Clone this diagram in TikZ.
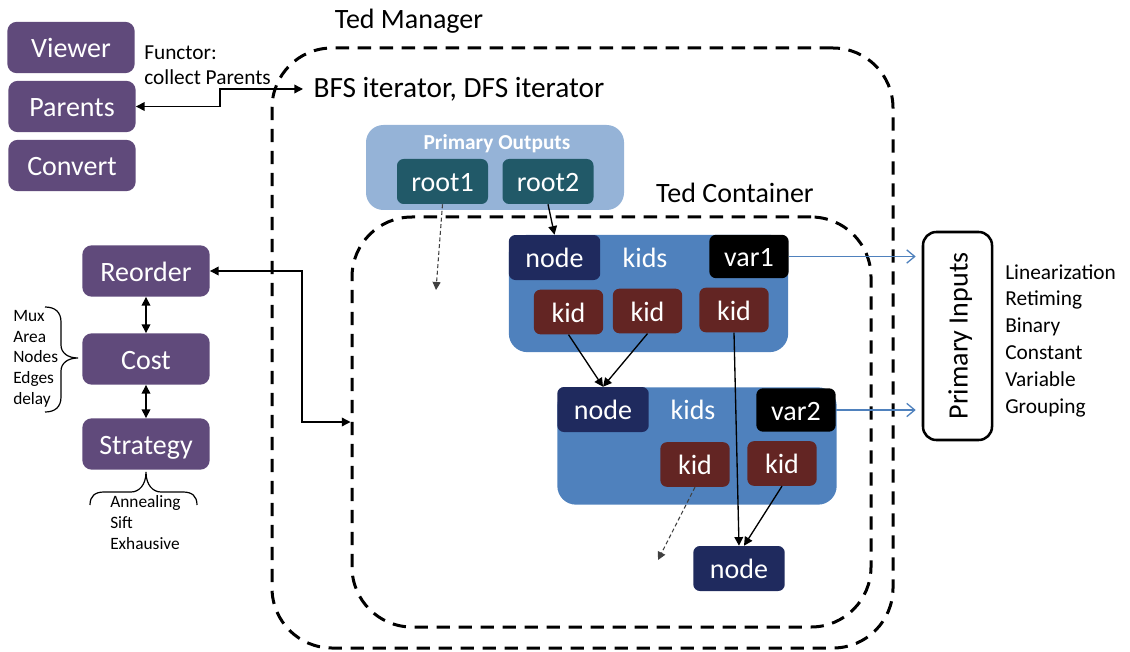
\documentclass[tikz,border=0pt]{standalone}
\usepackage{fontspec}
\setmainfont{Carlito}
\usetikzlibrary{arrows.meta}
\definecolor{plum}{HTML}{604A7B}
\definecolor{paleblue}{HTML}{95B3D7}
\definecolor{deepteal}{HTML}{215968}
\definecolor{steel}{HTML}{4F81BD}
\definecolor{navyink}{HTML}{1F2A5E}
\definecolor{oxblood}{HTML}{632523}
\definecolor{ashline}{HTML}{404040}
\tikzset{
  bigfont/.style={font=\fontsize{21}{25}\selectfont},
  tile/.style={bigfont, text=white, inner sep=0pt, text height=19.5pt, text depth=4.2pt},
  opbox/.style={tile, fill=plum, rounded corners=7pt, minimum width=95.5pt, minimum height=38.5pt},
  rootbox/.style={tile, fill=deepteal, rounded corners=5pt, minimum width=68.25pt, minimum height=33.75pt},
  headbox/.style={tile, fill=navyink, rounded corners=5pt, minimum width=68.6pt, minimum height=33.75pt},
  varbox/.style={tile, fill=black, rounded corners=5pt, minimum width=59.5pt, minimum height=32.5pt},
  kidbox/.style={tile, fill=oxblood, rounded corners=5pt, minimum width=52pt, minimum height=33.5pt},
  kidsword/.style={tile, fill=none},
  holder/.style={fill=steel, rounded corners=14pt, inner sep=0pt, minimum width=209.5pt, minimum height=88pt},
  frame/.style={draw, line width=2.25pt, dash pattern=on 10pt off 6.5pt, rounded corners=45pt, inner sep=0pt},
  caption/.style={bigfont, anchor=base, inner sep=0pt},
  % multi-line lists are placed by the baseline of their last line
  listing/.style={align=left, anchor=base west, inner sep=0pt},
  link/.style={line width=1pt, -{Triangle[length=6.5pt,width=6.5pt]}},
  twoway/.style={line width=1pt, {Triangle[length=6.5pt,width=6.5pt]}-{Triangle[length=6.5pt,width=6.5pt]}},
  ghost/.style={ashline, line width=0.8pt, dash pattern=on 3pt off 2pt, -{Triangle[length=6pt,width=6pt]}},
  feed/.style={steel, line width=1pt, -{Straight Barb[length=6pt,width=10pt]}},
  curly/.style={line width=0.9pt},
}
\begin{document}
\begin{tikzpicture}[x=0.75pt,y=-0.75pt]
\useasboundingbox (0,0) rectangle (1130,652);

% dashed frames: manager and container
\node[frame, minimum width=465.75pt, minimum height=450pt] (mgr) at (582.5,348) {};
\node[frame, minimum width=389.25pt, minimum height=307.5pt] (tc) at (611.5,422) {};
\node[caption] (mgrlbl) at (409,29) {Ted Manager};
\node[caption] (tclbl) at (735,203) {Ted Container};
\node[caption, font=\fontsize{22}{26}\selectfont] (bfs) at (459,98) {BFS iterator, DFS iterator};
\coordinate (bfsTip) at (303,89);

% left-hand tools
\node[opbox] (viewer) at (71,47.5) {Viewer};
\node[opbox] (parents) at (72,106.5) {Parents};
\node[opbox] (convert) at (72,165.5) {Convert};
\node[listing, font=\fontsize{16}{18.75}\selectfont] (functor) at (144,85) {Functor:\\collect Parents};

\node[opbox] (reorder) at (146,271) {Reorder};
\node[opbox] (cost) at (146,359) {Cost};
\node[opbox] (strategy) at (146,444) {Strategy};
\node[listing, font=\fontsize{13}{15.4}\selectfont] (costlist) at (13,404) {Mux\\Area\\Nodes\\Edges\\delay};
\node[listing, font=\fontsize{13}{15.4}\selectfont] (stratlist) at (110,549) {Annealing\\Sift\\Exhausive};

% braces
\draw[curly] (45,307) .. controls (55,307) and (61,312) .. (61,322) -- (61,345)
  .. controls (61,353) and (68,358) .. (78,358)
  .. controls (68,358) and (61,363) .. (61,371) -- (61,397)
  .. controls (61,407) and (55,412) .. (45,412);
\draw[curly] (90,505) .. controls (90,496) and (95,492) .. (104,492) -- (131,492)
  .. controls (139,492) and (146,485) .. (146,472)
  .. controls (146,485) and (153,492) .. (161,492) -- (183,492)
  .. controls (192,492) and (197,496) .. (197,505);

% primary outputs
\node[fill=paleblue, rounded corners=13pt, inner sep=0pt, minimum width=193.5pt, minimum height=63.75pt] (po) at (495,167.5) {};
\node[anchor=base, inner sep=0pt, text=white, font=\fontsize{16}{19}\selectfont\bfseries] (polbl) at (497,150) {Primary Outputs};
\node[rootbox] (root1) at (442.5,181.5) {root1};
\node[rootbox] (root2) at (548,181.5) {root2};

% first tree node
\node[holder] (hold1) at (648.5,293.5) {};
\node[headbox] (node1) at (554.5,257.5) {node};
\node[kidsword] (kids1) at (645,257.5) {kids};
\node[varbox] (var1) at (749,256.5) {var1};
\node[kidbox] (kid1) at (568.5,312) {kid};
\node[kidbox] (kid2) at (647.5,311) {kid};
\node[kidbox] (kid3) at (734,310) {kid};

% second tree node
\node[holder] (hold2) at (697,446) {};
\node[headbox] (node2) at (603,409.5) {node};
\node[kidsword] (kids2) at (693,409.5) {kids};
\node[varbox] (var2) at (796,410) {var2};
\node[kidbox] (kidA) at (695,464.5) {kid};
\node[kidbox] (kidB) at (782,463.5) {kid};

% leaf node
\node[headbox] (node3) at (739,568.5) {node};

% primary inputs
\node[draw, line width=1.9pt, rounded corners=10pt, rotate=90, inner sep=0pt,
      bigfont, text height=19.5pt, text depth=4.2pt,
      minimum width=156pt, minimum height=51.75pt] (pi) at (957.5,336) {Primary Inputs};
\node[listing, font=\fontsize{16}{20.1}\selectfont] (pilist) at (1005,413)
  {Linearization\\Retiming\\Binary\\Constant\\Variable\\Grouping};

% loose arrow ends
\coordinate (dropA) at (436,290);
\coordinate (dropB) at (658,560);

% connectors
\draw[twoway] (parents.east) -- ++(84,0) |- (bfsTip);
\draw[twoway] (reorder.east) -- ++(92,0) |- (tc.west);
\draw[twoway] (reorder.south) -- (cost.north);
\draw[twoway] (cost.south) -- (strategy.north);

\draw[link] (root2.south) -- (node1.north);
\draw[ghost] (root1.south) -- (dropA);
\draw[link] (kid1.south) -- (node2.north);
\draw[link] (kid2.south) -- (node2.north);
\draw[link] (kid3.south) -- (node3.north);
\draw[link] (kidB.south) -- ([xshift=3.75pt]node3.north);
\draw[ghost] (kidA.south) -- (dropB);

\draw[feed, shorten >=4.5pt] (var1.east) -- (var1.east -| pi.north);
\draw[feed, shorten >=4.5pt] (var2.east) -- (var2.east -| pi.north);
\end{tikzpicture}
\end{document}
